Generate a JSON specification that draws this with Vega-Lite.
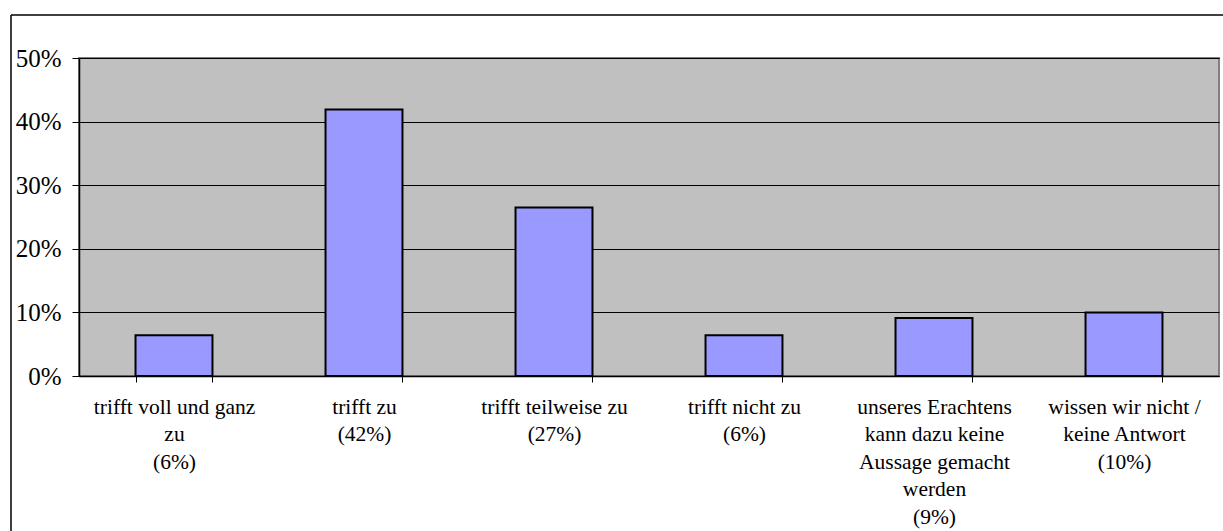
{
  "$schema": "https://vega.github.io/schema/vega-lite/v6.json",
  "width": 1140,
  "height": 318,
  "autosize": {"type": "none"},
  "padding": {"left": 79, "top": 58, "right": 4, "bottom": 155},
  "background": "white",
  "config": {
    "view": {"fill": "#C0C0C0", "stroke": "#808080", "strokeWidth": 2},
    "font": "Liberation Serif"
  },
  "layer": [
    {
      "data": {"values": [{"frame": 1}]},
      "layer": [
        {
          "mark": {"type": "rule", "stroke": "black", "strokeWidth": 1.5},
          "encoding": {
            "x": {"datum": 0, "type": "quantitative", "scale": {"domain": [0, 1], "range": [-68, 1200], "nice": false, "zero": false}, "axis": null},
            "x2": {"datum": 1},
            "y": {"datum": 1, "type": "quantitative", "scale": {"domain": [0, 1], "range": [600, -43], "nice": false, "zero": false}, "axis": null}
          }
        },
        {
          "mark": {"type": "rule", "stroke": "black", "strokeWidth": 1.5},
          "encoding": {
            "x": {"datum": 0, "type": "quantitative", "axis": null},
            "y": {"datum": 0, "type": "quantitative", "axis": null},
            "y2": {"datum": 1}
          }
        }
      ]
    },
    {
      "data": {
        "values": [
          {"Antwort": "trifft voll und ganz|zu|(6%)", "Anteil": 0.064},
          {"Antwort": "trifft zu|(42%)", "Anteil": 0.419},
          {"Antwort": "trifft teilweise zu|(27%)", "Anteil": 0.265},
          {"Antwort": "trifft nicht zu|(6%)", "Anteil": 0.064},
          {"Antwort": "unseres Erachtens|kann dazu keine|Aussage gemacht|werden|(9%)", "Anteil": 0.091},
          {"Antwort": "wissen wir nicht /|keine Antwort|(10%)", "Anteil": 0.1}
        ]
      },
      "mark": {"type": "bar", "fill": "#9999FF", "stroke": "black", "strokeWidth": 2},
      "encoding": {
        "x": {
          "field": "Antwort",
          "type": "nominal",
          "sort": null,
          "scale": {"paddingInner": 0.595, "paddingOuter": 0.2975},
          "axis": {
            "title": null,
            "labelAngle": 0,
            "labelExpr": "split(datum.label, '|')",
            "labelFont": "Liberation Serif",
            "labelFontSize": 21.5,
            "labelColor": "black",
            "labelLineHeight": 27.5,
            "labelPadding": 14,
            "labelLimit": 300,
            "labelBaseline": "top",
            "labelOverlap": false,
            "tickBand": "extent",
            "tickSize": 6,
            "tickColor": "black",
            "domainColor": "black",
            "domainWidth": 1.5,
            "grid": false
          }
        },
        "y": {
          "field": "Anteil",
          "type": "quantitative",
          "scale": {"domain": [0, 0.5]},
          "axis": {
            "title": null,
            "format": ".0%",
            "values": [0, 0.1, 0.2, 0.3, 0.4, 0.5],
            "labelFont": "Liberation Serif",
            "labelFontSize": 25,
            "labelColor": "black",
            "labelPadding": 11,
            "tickSize": 7,
            "tickColor": "black",
            "domainColor": "black",
            "domainWidth": 1.5,
            "grid": true,
            "gridColor": "black",
            "gridWidth": 1,
            "gridOpacity": 1
          }
        }
      }
    }
  ],
  "resolve": {"scale": {"x": "independent", "y": "independent"}}
}
